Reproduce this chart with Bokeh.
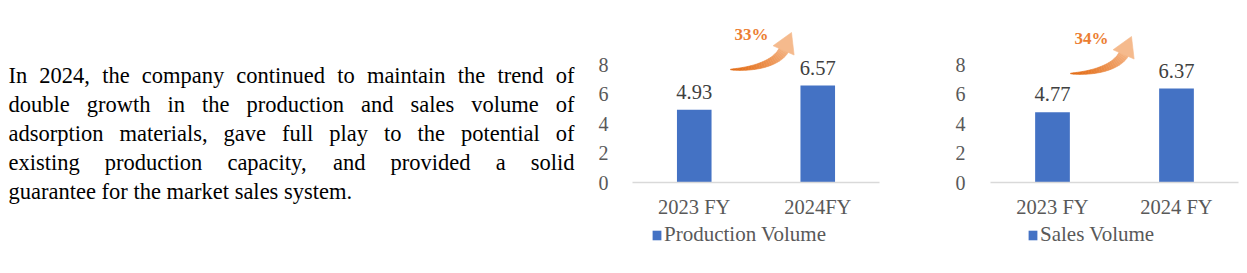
import numpy as np
from bokeh.plotting import figure
from bokeh.models import (FactorRange, Range1d, FixedTicker, Legend, LegendItem,
                          ColumnDataSource)
from bokeh.layouts import row, column
from bokeh.embed import file_html
from bokeh.resources import INLINE
from bokeh.core.properties import value

# ---------------- data ----------------
paragraph_lines = [
    "In 2024, the company continued to maintain the trend of",
    "double growth in the production and sales volume of",
    "adsorption materials, gave full play to the potential of",
    "existing production capacity, and provided a solid",
    "guarantee for the market sales system.",
]
prod_categories = ["2023 FY", "2024FY"]
production_volume = [4.93, 6.57]
sales_categories = ["2023 FY", "2024 FY"]
sales_volume = [4.77, 6.37]
growth_labels = ["33%", "34%"]
y_ticks = [0, 2, 4, 6, 8]
series_names = ["Production Volume", "Sales Volume"]

SERIF = "Liberation Serif"
BAR = "#4472C4"
GRAY = "#595959"
H = 273

# ---------------- paragraph ----------------
CW = {' ': 250, ',': 250, '.': 250, 'a': 444, 'b': 500, 'c': 444, 'd': 500, 'e': 444,
      'f': 333, 'g': 500, 'h': 500, 'i': 278, 'j': 278, 'k': 500, 'l': 278, 'm': 778,
      'n': 500, 'o': 500, 'p': 500, 'q': 500, 'r': 333, 's': 389, 't': 278, 'u': 500,
      'v': 500, 'w': 722, 'x': 500, 'y': 500, 'z': 444, 'I': 333}


def wwidth(word, fs):
    return sum(CW.get(c, 500) for c in word) * fs / 1000.0


FS = 22.5
LEFT, RIGHT = 8, 574
pt = figure(width=590, height=H, x_range=Range1d(0, 590), y_range=Range1d(0, H),
            output_backend="svg", toolbar_location=None,
            x_axis_location=None, y_axis_location=None,
            min_border_left=0, min_border_right=0, min_border_top=0, min_border_bottom=0,
            outline_line_color=None)
pt.grid.visible = False

lx, ly, lt = [], [], []
rx, ry, rt = [], [], []
for i, line in enumerate(paragraph_lines):
    y = H - (75 + i * 29)
    words = line.split(" ")
    if i == len(paragraph_lines) - 1:
        lx.append(LEFT); ly.append(y); lt.append(line)
        continue
    widths = [wwidth(w, FS) for w in words]
    gap = (RIGHT - LEFT - sum(widths)) / (len(words) - 1)
    x = LEFT
    for j, (w, ww) in enumerate(zip(words, widths)):
        if j == len(words) - 1:
            rx.append(RIGHT); ry.append(y); rt.append(w)
        else:
            lx.append(x); ly.append(y); lt.append(w)
        x += ww + gap
pt.text(x=lx, y=ly, text=lt, text_align="left", text_baseline="alphabetic",
        text_font=value(SERIF), text_font_size=f"{FS}px", text_color="#000000")
pt.text(x=rx, y=ry, text=rt, text_align="right", text_baseline="alphabetic",
        text_font=value(SERIF), text_font_size=f"{FS}px", text_color="#000000")

# ---------------- arrow shape (pixels, relative to tail, y up) ----------------
P0 = np.array([0.0, 0.0]); C1 = np.array([25.0, 0.0]); C2 = np.array([47.0, 7.0])
P3 = np.array([53.5, 20.0]); TIP = np.array([61.0, 37.0])
NSEG = 24


def bez(t):
    return ((1 - t) ** 3)[:, None] * P0 + (3 * (1 - t) ** 2 * t)[:, None] * C1 + \
           (3 * (1 - t) * t ** 2)[:, None] * C2 + (t ** 3)[:, None] * P3


def bezd(t):
    return (3 * (1 - t) ** 2)[:, None] * (C1 - P0) + (6 * (1 - t) * t)[:, None] * (C2 - C1) + \
           (3 * t ** 2)[:, None] * (P3 - C2)


def lerp_col(a, b, f):
    c = [int(round(a[k] + (b[k] - a[k]) * f)) for k in range(3)]
    return "#%02x%02x%02x" % tuple(c)


def arrow_polys():
    t = np.linspace(0, 1, NSEG + 1)
    pts = bez(t)
    d = bezd(t)
    d = d / np.linalg.norm(d, axis=1)[:, None]
    nrm = np.stack([-d[:, 1], d[:, 0]], axis=1)
    hw = 0.3 + 4.8 * t ** 0.8
    up = pts + nrm * hw[:, None]
    lo = pts - nrm * hw[:, None]
    polys, cols = [], []
    dark, light = (226, 104, 16), (246, 190, 148)
    for k in range(NSEG):
        poly = np.array([lo[k], lo[k + 1], up[k + 1], up[k]])
        polys.append(poly)
        cols.append(lerp_col(dark, light, (k + 0.5) / NSEG * 0.85))
    hd = TIP - P3
    hd = hd / np.linalg.norm(hd)
    hn = np.array([-hd[1], hd[0]])
    head = np.array([P3 + hn * 11.5 - hd * 1.0, TIP, P3 - hn * 11.5 - hd * 1.0])
    polys.append(head)
    cols.append(lerp_col(dark, light, 0.95))
    return polys, cols


# ---------------- charts ----------------
PX_Y = 14.75
FRAME_H = 172
CH = 222          # chart figure height (frame 10..182)
LH = H - CH       # legend strip height


def make_chart(cats, vals, name, growth, width, bl, br, standoff, tail, leg_x):
    frame_w = width - bl - br
    px_x = frame_w / len(cats)
    p = figure(x_range=FactorRange(*cats), y_range=Range1d(0, FRAME_H / PX_Y),
               width=width, height=CH, output_backend="svg", toolbar_location=None,
               min_border_left=bl, min_border_right=br, min_border_top=10,
               min_border_bottom=CH - 10 - FRAME_H, outline_line_color=None)
    p.grid.grid_line_color = None
    src = ColumnDataSource(dict(cat=cats, val=vals, lbl=[f"{v:.2f}" for v in vals]))
    p.vbar(x="cat", top="val", width=0.28, source=src, fill_color=BAR, line_color=None)
    p.text(x="cat", y="val", text="lbl", source=src, text_align="center",
           text_baseline="bottom", y_offset=-11, text_font=value(SERIF),
           text_font_size="20.5px", text_color="#404040")

    ya = p.yaxis[0]
    ya.ticker = FixedTicker(ticks=y_ticks)
    ya.axis_line_color = None
    ya.major_tick_line_color = None
    ya.minor_tick_line_color = None
    ya.major_tick_out = 0
    ya.major_tick_in = 0
    ya.major_label_standoff = standoff
    ya.major_label_text_font = SERIF
    ya.major_label_text_font_size = "20px"
    ya.major_label_text_color = GRAY

    xa = p.xaxis[0]
    xa.axis_line_color = "#D9D9D9"
    xa.axis_line_width = 1.5
    xa.major_tick_line_color = None
    xa.minor_tick_line_color = None
    xa.major_tick_out = 0
    xa.major_tick_in = 0
    xa.major_label_standoff = 13
    xa.major_label_text_font = SERIF
    xa.major_label_text_font_size = "20.5px"
    xa.major_label_text_color = GRAY

    polys, cols = arrow_polys()
    xs = [list((poly[:, 0] + tail[0]) / px_x) for poly in polys]
    ys = [list((poly[:, 1] + tail[1]) / PX_Y) for poly in polys]
    p.patches(xs=xs, ys=ys, fill_color=cols, line_color=cols, line_width=0.6)
    p.text(x=[(tail[0] + 21) / px_x], y=[(tail[1] + 35) / PX_Y], text=[growth],
           text_align="center", text_baseline="middle", text_font=value(SERIF),
           text_font_size="17px", text_font_style="bold", text_color="#EC7E32")

    # legend strip under the chart (its frame is aligned with the chart frame)
    lf = figure(width=width, height=LH, x_range=Range1d(0, 1), y_range=Range1d(0, 1),
                output_backend="svg", toolbar_location=None,
                x_axis_location=None, y_axis_location=None,
                min_border_left=bl, min_border_right=br, min_border_top=0,
                min_border_bottom=0, outline_line_color=None)
    lf.grid.visible = False
    key = lf.vbar(x=[0], top=[0], width=0, fill_color=BAR, line_color=None)
    leg = Legend(items=[LegendItem(label=name, renderers=[key])], location=(leg_x, 26),
                 orientation="horizontal", glyph_width=11, glyph_height=12,
                 label_standoff=2, padding=0, margin=0, spacing=0,
                 border_line_color=None, background_fill_alpha=0,
                 label_text_font=SERIF, label_text_font_size="21px",
                 label_text_color=GRAY, label_height=20)
    lf.add_layout(leg)
    return column(p, lf)


c1 = make_chart(prod_categories, production_volume, series_names[0], growth_labels[0],
                345, 42, 56, 24, (98, 113), 19)
c2 = make_chart(sales_categories, sales_volume, series_names[1], growth_labels[1],
                312, 55, 9, 25, (80, 109), 37)

layout = row(pt, c1, c2)
open("out.html", "w").write(file_html(layout, INLINE))
